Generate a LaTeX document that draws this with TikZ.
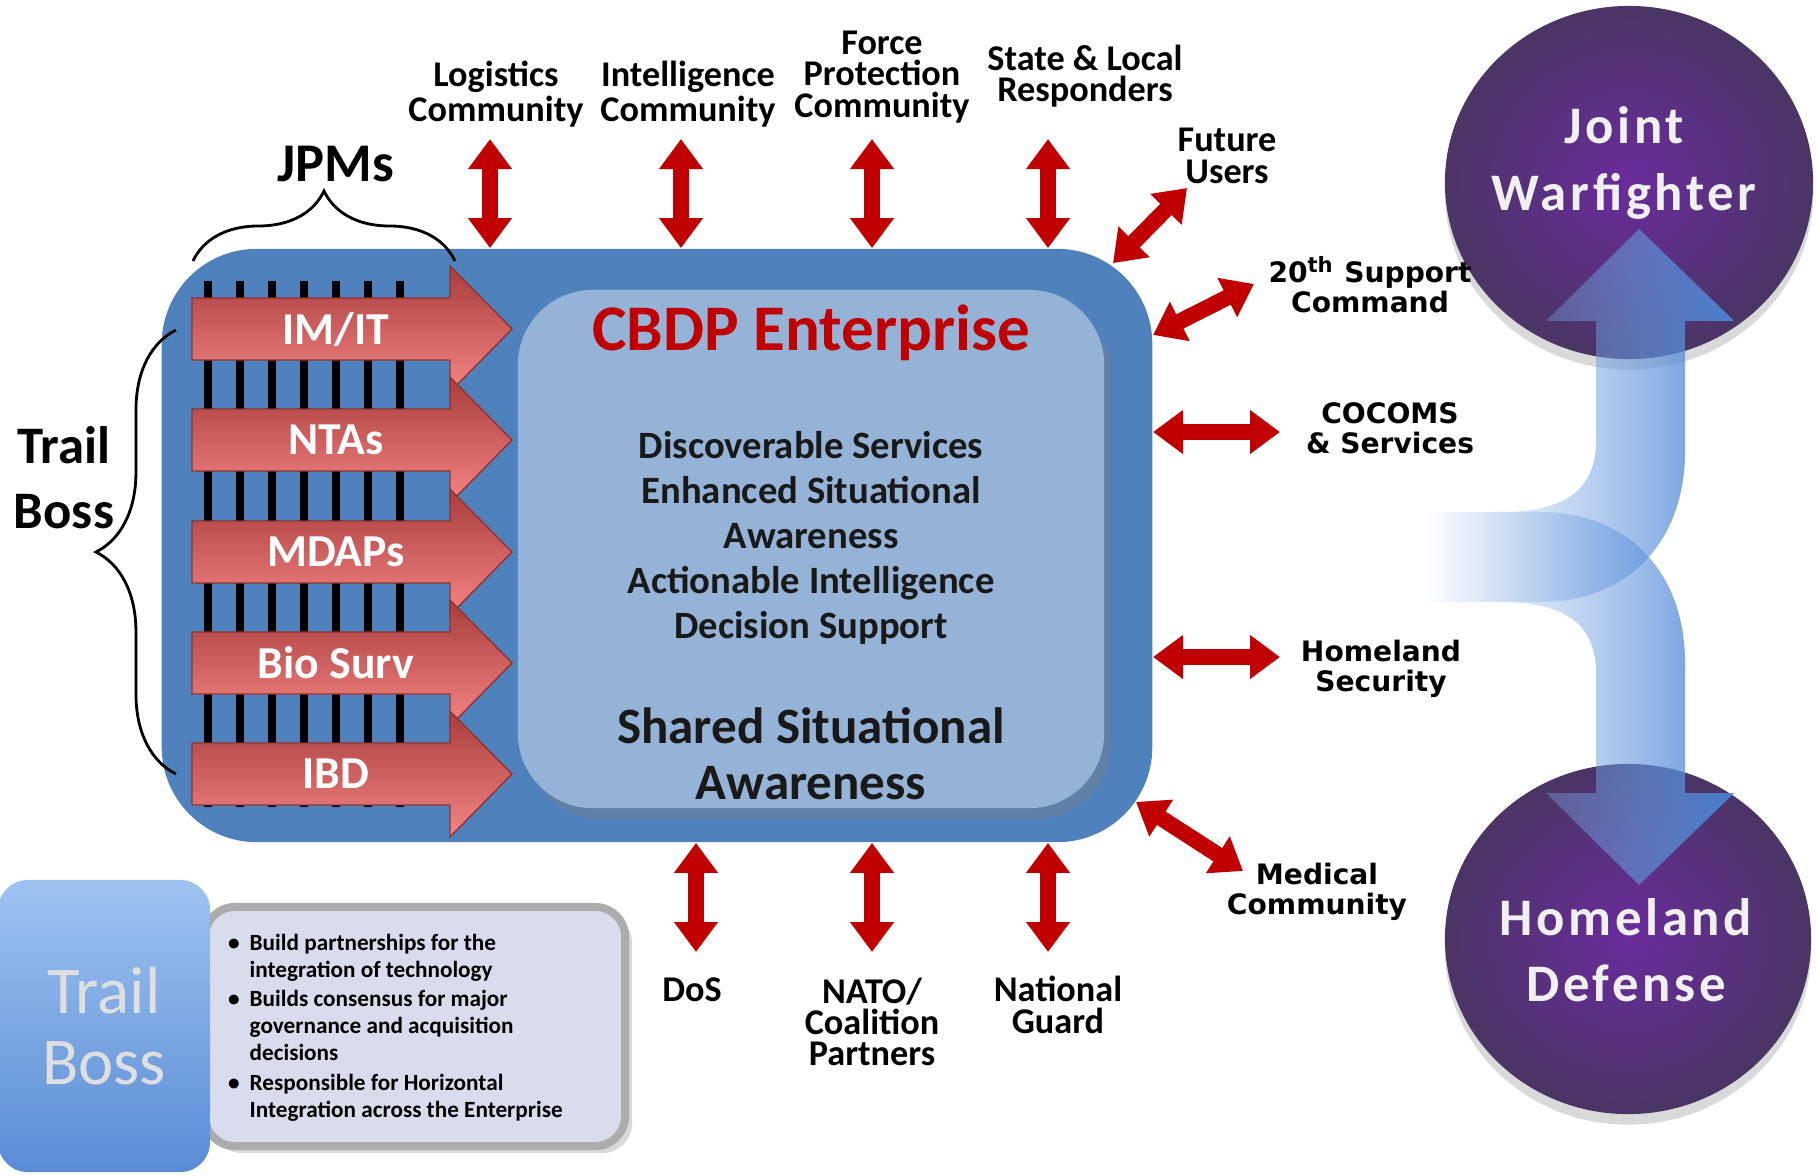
\documentclass[tikz,border=0pt]{standalone}
\usepackage{fontspec}
\setmainfont{Carlito}
\newfontfamily\widefont{DejaVu Sans}
\newfontfamily\orbfont{Carlito}[LetterSpace=7]
\usetikzlibrary{arrows.meta,decorations.pathreplacing,shadows,fadings,shapes.geometric}
\tikzset{>=latex}

\definecolor{cbdpblue}{HTML}{4F81BD}
\definecolor{cbdplight}{HTML}{95B3D7}
\definecolor{linkred}{HTML}{C00000}
\definecolor{jpmdark}{HTML}{A83D3B}
\definecolor{jpmlight}{HTML}{F48585}
\definecolor{orbin}{HTML}{6A2C9C}
\definecolor{orbout}{HTML}{4A3565}
\definecolor{flowblue}{HTML}{4A85D6}
\definecolor{flowlight}{HTML}{9DBDEB}
\definecolor{tiletop}{HTML}{9DC3F0}
\definecolor{tilebot}{HTML}{5A8CD6}
\definecolor{notefill}{HTML}{D8DCEC}

% fondu de gauche a droite / fade from left to right
\tikzfading[name=fadeleft, left color=transparent!100, right color=transparent!0]

\tikzset{
  link/.style={draw=linkred, line width=0.16cm,
    {Triangle[width=0.42cm,length=0.3cm]}-{Triangle[width=0.42cm,length=0.3cm]}},
  toplabel/.style={font=\bfseries\fontsize{10.3}{8.9}\selectfont, align=center, inner sep=0pt},
  sidelabel/.style={font=\widefont\bfseries\fontsize{8}{8.6}\selectfont, align=center, inner sep=0pt},
  jpmtext/.style={text=white, font=\bfseries\fontsize{13}{13}\selectfont, inner sep=0pt},
  coretext/.style={text=black!90, align=center, inner sep=0pt},
  orb/.style={ellipse, inner sep=0pt, inner color=orbin, outer color=orbout,
    drop shadow={opacity=0.3, shadow xshift=0pt, shadow yshift=-3pt}},
  orbtext/.style={text=gray!12, font=\orbfont\bfseries\fontsize{15}{18.8}\selectfont, align=center, inner sep=0pt},
  bracket/.style={decorate, line width=0.8pt},
}

\begin{document}
\begin{tikzpicture}[x=0.01cm, y=-0.01cm]

% Zone de dessin (1 unite = 1 pixel de la figure)
% Drawing area (1 unit = 1 pixel of the figure)
\useasboundingbox (0,0) rectangle (1816,1175);

% Cercles a droite / Circles on the right
\node[orb, minimum width=3.68cm, minimum height=3.53cm] (joint) at (1629,182.5) {};
\node[orb, minimum width=3.66cm, minimum height=3.50cm] (homedef) at (1628,939) {};
\node[orbtext] (jointlbl) at (1624,163) {Joint\\Warfighter};
\node[orbtext] (homedeflbl) at (1626,950) {Homeland\\Defense};

% Fleche bleue / Blue flow arrow
\path[left color=flowlight, right color=flowblue, path fading=fadeleft, fill opacity=0.92]
  (1425,512) -- (1500,512) .. controls (1565,512) and (1596,490) .. (1596,440)
  -- (1596,321) -- (1546,321) -- (1639,229) -- (1734,321) -- (1685,321) -- (1685,450)
  .. controls (1685,545) and (1625,602) .. (1540,602) -- (1425,602) -- cycle;
\path[left color=flowlight, right color=flowblue, path fading=fadeleft, fill opacity=0.92]
  (1425,602) -- (1500,602) .. controls (1565,602) and (1596,624) .. (1596,674)
  -- (1596,793) -- (1546,793) -- (1639,885) -- (1734,793) -- (1685,793) -- (1685,664)
  .. controls (1685,569) and (1625,512) .. (1540,512) -- (1425,512) -- cycle;

% Bloc principal / Main block
\node[fill=cbdpblue, rounded corners=0.95cm, minimum width=9.9cm, minimum height=5.93cm, inner sep=0pt] (cbdp) at (657,545.5) {};

\foreach \xx in {208,240,...,400}
  \draw[line width=0.075cm] (\xx,281) -- (\xx,807);

\foreach \name/\txt/\yy in {imit/{IM/IT}/329, ntas/NTAs/440, mdaps/MDAPs/552, biosurv/{Bio Surv}/663, ibd/IBD/774}{
  \path[top color=jpmdark, bottom color=jpmlight, draw=jpmdark!85!black, line width=0.4pt]
    (192,\yy-31) -- (450,\yy-31) -- (450,\yy-63) -- (512,\yy) -- (450,\yy+63)
    -- (450,\yy+31) -- (192,\yy+31) -- cycle;
  \node[jpmtext] (\name) at (336,\yy) {\txt};
}

\node[fill=cbdplight, rounded corners=0.75cm, minimum width=5.86cm, minimum height=5.18cm, inner sep=0pt,
  drop shadow={opacity=0.35, shadow xshift=2pt, shadow yshift=-3pt}] (core) at (811,549) {};

\node[coretext, text=linkred, font=\bfseries\fontsize{18.5}{18.5}\selectfont] (title) at (811,333) {CBDP Enterprise};
\node[coretext, font=\bfseries\fontsize{11}{12.8}\selectfont] (benefits) at (811,538)
  {Discoverable Services\\Enhanced Situational\\Awareness\\Actionable Intelligence\\Decision Support};
\node[coretext, font=\bfseries\fontsize{14.5}{15.9}\selectfont] (shared) at (811,754) {Shared Situational\\Awareness};

% Accolades / Braces
\node[font=\bfseries\fontsize{15.5}{15.5}\selectfont, inner sep=0pt] (jpms) at (336,164) {JPMs};
\draw[bracket, decoration={brace, amplitude=0.7cm}] (193,261) -- (455,261);
\node[font=\bfseries\fontsize{15}{18.5}\selectfont, align=center, inner sep=0pt] (trailboss) at (64,478) {Trail\\Boss};
\draw[bracket, decoration={brace, amplitude=0.8cm}] (176,774) -- (176,330);

% Etiquettes / Labels
\node[toplabel] (logi) at (496,94) {Logistics\\Community};
\node[toplabel] (intel) at (688,94) {Intelligence\\Community};
\node[toplabel] (force) at (882,77) {Force\\Protection\\Community};
\node[toplabel] (state) at (1085,76) {State \& Local\\Responders};
\node[toplabel] (future) at (1227,156) {Future\\Users};
\node[sidelabel] (sup20) at (1370,285) {20\textsuperscript{th} Support\\Command};
\node[sidelabel] (cocoms) at (1390,428) {COCOMS\\\& Services};
\node[sidelabel] (homesec) at (1381,669) {Homeland\\Security};
\node[sidelabel] (medical) at (1317,892) {Medical\\Community};
\node[toplabel] (dos) at (692,990) {DoS};
\node[toplabel] (nato) at (872,1022) {NATO/\\Coalition\\Partners};
\node[toplabel] (guard) at (1058,1005) {National\\Guard};

% Fleches rouges / Red arrows
\coordinate (tlog) at (490,139);
\coordinate (tint) at (681,139);
\coordinate (tfor) at (872,139);
\coordinate (tsta) at (1048,139);
\coordinate (tfut) at (1187,188);
\coordinate (rsup) at (1254,284);
\coordinate (rcoc) at (1280,432);
\coordinate (rhom) at (1280,657);
\coordinate (rmed) at (1243,871);
\coordinate (bdos) at (696,952);
\coordinate (bnat) at (872,952);
\coordinate (bgua) at (1048,952);

\foreach \cc in {tlog,tint,tfor,tsta}
  \draw[link] (\cc) -- (\cc |- cbdp.north);
\foreach \cc in {bdos,bnat,bgua}
  \draw[link] (\cc) -- (\cc |- cbdp.south);
\foreach \cc in {rcoc,rhom}
  \draw[link] (\cc) -- (\cc -| cbdp.east);
\draw[link] (tfut) -- ([shift={(-40,15)}]cbdp.north east);
\draw[link] (rsup) -- (cbdp.23);
\draw[link] (rmed) -- ([shift={(-17,-41)}]cbdp.south east);

% Encadre en bas a gauche / Bottom-left box
\node[fill=notefill, draw=gray!65, line width=0.08cm, rounded corners=0.3cm,
  minimum width=4.2cm, minimum height=2.39cm, inner sep=0pt,
  drop shadow={opacity=0.3, shadow xshift=2pt, shadow yshift=-2pt}] (bossnote) at (415,1026.5) {};
\node[anchor=north west, inner sep=0pt, font=\bfseries\fontsize{6.6}{7.7}\selectfont] (bossduties) at (222,933) {%
  \begin{minipage}{3.9cm}
  \begin{list}{\textbullet}{\setlength\leftmargin{0.27cm}\setlength\labelwidth{0.17cm}%
    \setlength\labelsep{0.1cm}\setlength\itemsep{0.7pt}\setlength\parsep{0pt}\setlength\topsep{0pt}}
  \item Build partnerships for the\\integration of technology
  \item Builds consensus for major\\governance and acquisition\\decisions
  \item Responsible for Horizontal\\Integration across the Enterprise
  \end{list}
  \end{minipage}};
\node[top color=tiletop, bottom color=tilebot, rounded corners=0.3cm, minimum width=2.12cm, minimum height=2.92cm,
  inner sep=0pt, text=gray!25, font=\fontsize{19}{20}\selectfont, align=center] (bosstile) at (104,1026) {Trail\\Boss};

\end{tikzpicture}
\end{document}
